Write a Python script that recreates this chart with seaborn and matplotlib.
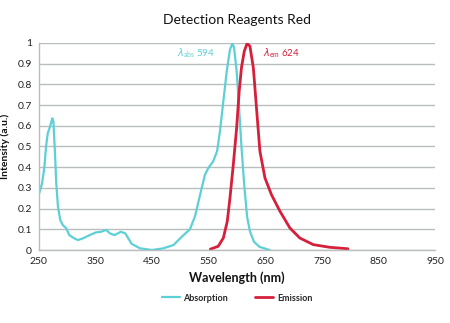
import matplotlib
matplotlib.use("Agg")
import matplotlib.pyplot as plt
from matplotlib.lines import Line2D
import seaborn as sns
import pandas as pd

# Absorption spectrum (nm, a.u.)
abs_wl = [250, 256, 260, 263, 266, 270, 274, 276, 278.5, 281, 284, 288, 292.6, 298.5, 304,
          313, 319, 328, 340, 351, 360, 369, 376, 384, 395, 403, 414, 429, 450, 470, 488,
          503, 517, 526, 535, 543.6, 549.5, 558, 565, 570, 576, 582, 587.7, 592, 595,
          599.5, 603.5, 608, 613, 618, 623, 630, 640, 658]
abs_int = [0.266, 0.322, 0.40, 0.50, 0.564, 0.596, 0.636, 0.62, 0.483, 0.322, 0.21, 0.145,
           0.12, 0.105, 0.072, 0.056, 0.048, 0.056, 0.072, 0.085, 0.088, 0.097, 0.08, 0.072,
           0.088, 0.08, 0.03, 0.008, 0.0, 0.008, 0.024, 0.065, 0.1, 0.163, 0.267, 0.364,
           0.396, 0.428, 0.477, 0.573, 0.718, 0.863, 0.968, 0.998, 0.976, 0.863, 0.70, 0.50,
           0.31, 0.16, 0.09, 0.04, 0.015, 0.0]

# Emission spectrum (nm, a.u.)
em_wl = [553, 567, 576, 583, 587.7, 593.6, 599.5, 604, 608, 613, 618, 623, 629, 635, 640.6,
         649.5, 661, 676, 693.6, 711, 734.7, 764, 796]
em_int = [0.004, 0.018, 0.058, 0.139, 0.251, 0.412, 0.59, 0.767, 0.88, 0.96, 0.998, 0.984,
          0.88, 0.67, 0.477, 0.348, 0.267, 0.187, 0.106, 0.058, 0.026, 0.013, 0.006]

x_ticks = [250, 350, 450, 550, 650, 750, 850, 950]
y_ticks = [0, 0.1, 0.2, 0.3, 0.4, 0.5, 0.6, 0.7, 0.8, 0.9, 1]
y_tick_labels = ["0", "0.1", "0.2", "0.3", "0.4", "0.5", "0.6", "0.7", "0.8", "0.9", "1"]

CYAN = "#5dd0d6"
RED = "#d61f3b"
GRID = "#b9bdbd"

sns.set_theme(style="white")
plt.rcParams["font.family"] = ["Lato", "DejaVu Sans"]
plt.rcParams["mathtext.fontset"] = "custom"
plt.rcParams["mathtext.rm"] = "Lato"

df = pd.concat([
    pd.DataFrame({"wl": abs_wl, "val": abs_int, "series": "Absorption"}),
    pd.DataFrame({"wl": em_wl, "val": em_int, "series": "Emission"}),
])

fig = plt.figure(figsize=(4.5, 3.23), dpi=100)
ax = fig.add_axes([0.086, 0.226, 0.881, 0.641])

sns.lineplot(data=df, x="wl", y="val", hue="series",
             palette={"Absorption": CYAN, "Emission": RED},
             ax=ax, legend=False, sort=True)
lines = ax.get_lines()
lines[0].set_linewidth(1.6)
lines[1].set_linewidth(2.0)
for ln in lines:
    ln.set_solid_joinstyle("round")
    ln.set_solid_capstyle("round")

ax.set_xlim(250, 950)
ax.set_ylim(0, 1)
ax.set_xticks(x_ticks)
ax.set_xticklabels([str(t) for t in x_ticks], fontsize=7.5)
ax.set_yticks(y_ticks)
ax.set_yticklabels(y_tick_labels, fontsize=7.5)
ax.yaxis.grid(True, color=GRID, linewidth=1.0)
ax.set_axisbelow(True)
for s in ["top", "right"]:
    ax.spines[s].set_visible(False)
for s in ["left", "bottom"]:
    ax.spines[s].set_color(GRID)
    ax.spines[s].set_linewidth(1.0)
ax.tick_params(axis="both", which="major", length=3, width=0.8, color=GRID, pad=2,
               labelcolor="#222222")

ax.set_xlabel("Wavelength (nm)", fontsize=9, fontweight="bold", labelpad=4, color="#111111")
ax.set_ylabel("Intensity (a.u.)", fontsize=7.5, fontweight="bold", labelpad=5, color="#111111")
ax.set_title("Detection Reagents Red", fontsize=10, pad=14, color="#111111")

ax.text(561, 0.95, r"$\lambda_{\mathrm{abs}}$ 594", color=CYAN, fontsize=7, ha="right", va="center")
ax.text(646, 0.95, r"$\lambda_{\mathrm{em}}$ 624", color=RED, fontsize=7, ha="left", va="center")

handles = [Line2D([], [], color=CYAN, lw=1.6), Line2D([], [], color=RED, lw=2.0)]
fig.legend(handles, ["Absorption", "Emission"], loc="center", bbox_to_anchor=(0.527, 0.077),
           ncol=2, frameon=False, handlelength=2.0, handletextpad=0.4, columnspacing=3.0,
           prop={"weight": "bold", "size": 6.5})

fig.savefig("out.png", dpi=100)
